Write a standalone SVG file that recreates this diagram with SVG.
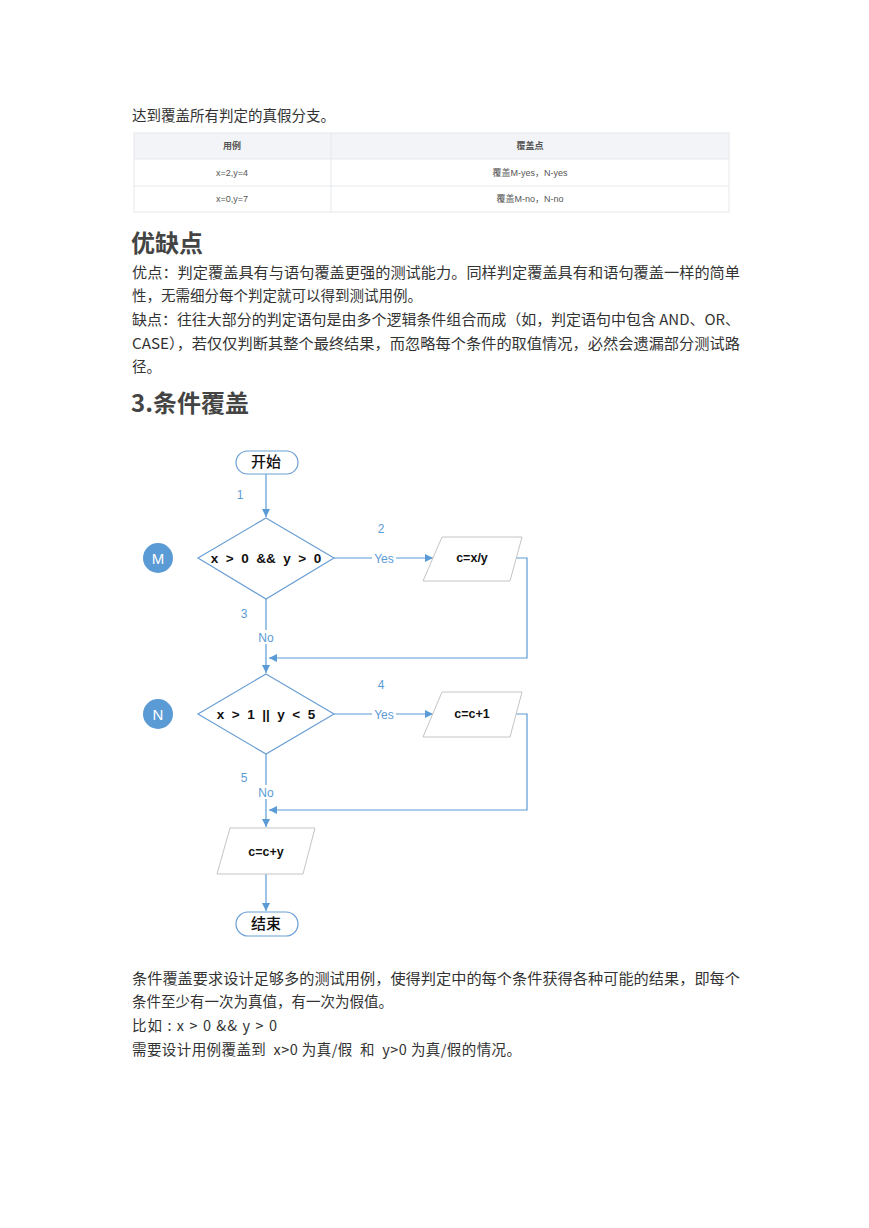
<svg xmlns="http://www.w3.org/2000/svg" width="869" height="1228" viewBox="0 0 869 1228">
<defs>
<style>
.body{font-family:"Noto Sans CJK SC","Liberation Sans",sans-serif;font-size:14.5px;fill:#333}
.h{font-family:"Noto Sans CJK SC","Liberation Sans",sans-serif;font-weight:bold;fill:#444}
.tbl{font-family:"Liberation Sans","Noto Sans CJK SC",sans-serif;font-size:9px;fill:#555;text-anchor:middle}
.ln{fill:none;stroke:#5b9bd5;stroke-width:1.2}
.lbl{font-family:"Liberation Sans","Noto Sans CJK SC",sans-serif;font-size:12px;fill:#5b9bd5;text-anchor:middle}
.dia{fill:#fff;stroke:#6a9fd4;stroke-width:1.2}
.para{fill:#fff;stroke:#c4c4c4;stroke-width:1}
.term{fill:#fff;stroke:#6a9fd4;stroke-width:1.2}
.cond{font-family:"Liberation Sans",sans-serif;font-size:13.5px;font-weight:bold;fill:#111;text-anchor:middle}
.pt{font-family:"Liberation Sans",sans-serif;font-size:12.5px;font-weight:bold;fill:#111;text-anchor:middle}
.tt{font-family:"Noto Sans CJK SC",sans-serif;font-size:15px;font-weight:500;fill:#111;text-anchor:middle}
.circ{fill:#5b9bd5}
.ct{font-family:"Liberation Sans",sans-serif;font-size:15px;fill:#fff;text-anchor:middle}
</style>
<marker id="arr" markerWidth="10" markerHeight="10" refX="8" refY="4" orient="auto" markerUnits="userSpaceOnUse">
<path d="M0,0 L8,4 L0,8 z" fill="#5b9bd5"/>
</marker>
</defs>
<rect width="869" height="1228" fill="#fff"/>

<text class="body" x="132" y="121">达到覆盖所有判定的真假分支。</text>

<g id="table">
<rect x="134" y="133" width="595" height="26" fill="#f2f4f7"/>
<rect x="134" y="133" width="595" height="79" fill="none" stroke="#e6e8eb"/>
<line x1="134" y1="159" x2="729" y2="159" stroke="#e6e8eb"/>
<line x1="134" y1="186" x2="729" y2="186" stroke="#e6e8eb"/>
<line x1="331" y1="133" x2="331" y2="212" stroke="#e6e8eb"/>
<text class="tbl" x="232" y="149" font-weight="bold">用例</text>
<text class="tbl" x="530" y="149" font-weight="bold">覆盖点</text>
<text class="tbl" x="232" y="176">x=2,y=4</text>
<text class="tbl" x="530" y="176">覆盖M-yes，N-yes</text>
<text class="tbl" x="232" y="202">x=0,y=7</text>
<text class="tbl" x="530" y="202">覆盖M-no，N-no</text>
</g>

<text class="h" x="131" y="252" font-size="24">优缺点</text>
<text class="body" x="132" y="278" textLength="608" lengthAdjust="spacingAndGlyphs">优点：判定覆盖具有与语句覆盖更强的测试能力。同样判定覆盖具有和语句覆盖一样的简单</text>
<text class="body" x="132" y="301">性，无需细分每个判定就可以得到测试用例。</text>
<text class="body" x="132" y="325" textLength="608" lengthAdjust="spacingAndGlyphs">缺点：往往大部分的判定语句是由多个逻辑条件组合而成（如，判定语句中包含 AND、OR、</text>
<text class="body" x="132" y="349" textLength="608" lengthAdjust="spacingAndGlyphs">CASE），若仅仅判断其整个最终结果，而忽略每个条件的取值情况，必然会遗漏部分测试路</text>
<text class="body" x="132" y="372">径。</text>

<text class="h" x="131" y="412" font-size="24">3.条件覆盖</text>

<g id="connectors">
<line class="ln" x1="266" y1="473" x2="266" y2="517" marker-end="url(#arr)"/>
<line class="ln" x1="334" y1="558" x2="433" y2="558" marker-end="url(#arr)"/>
<polyline class="ln" points="510,558 527,558 527,658 269,658" marker-end="url(#arr)"/>
<line class="ln" x1="266" y1="599" x2="266" y2="673" marker-end="url(#arr)"/>
<line class="ln" x1="334" y1="714" x2="433" y2="714" marker-end="url(#arr)"/>
<polyline class="ln" points="510,714 527,714 527,810 269,810" marker-end="url(#arr)"/>
<line class="ln" x1="266" y1="754" x2="266" y2="827" marker-end="url(#arr)"/>
<line class="ln" x1="266" y1="874" x2="266" y2="911" marker-end="url(#arr)"/>
<rect x="372" y="551" width="24" height="14" fill="#fff"/>
<text class="lbl" x="384" y="563">Yes</text>
<rect x="372" y="707" width="24" height="14" fill="#fff"/>
<text class="lbl" x="384" y="719">Yes</text>
<rect x="256" y="630" width="20" height="14" fill="#fff"/>
<text class="lbl" x="266" y="642">No</text>
<rect x="256" y="785" width="20" height="14" fill="#fff"/>
<text class="lbl" x="266" y="797">No</text>
<text class="lbl" x="240" y="499">1</text>
<text class="lbl" x="381" y="533">2</text>
<text class="lbl" x="244" y="618">3</text>
<text class="lbl" x="381" y="689">4</text>
<text class="lbl" x="244" y="782">5</text>
</g>

<g id="start">
<rect class="term" x="236" y="451" width="62" height="23" rx="11.5"/>
<text class="tt" x="266" y="467">开始</text>
</g>
<g id="M">
<circle class="circ" cx="158" cy="558" r="15"/>
<text class="ct" x="158" y="563.5">M</text>
</g>
<g id="decisionM">
<polygon class="dia" points="266,518 334,558 266,599 198,558"/>
<text class="cond" x="266" y="563" xml:space="preserve">x  &gt;  0  &amp;&amp;  y  &gt;  0</text>
</g>
<g id="p1">
<polygon class="para" points="442,537 522,537 510,581 423,581"/>
<text class="pt" x="472" y="562">c=x/y</text>
</g>
<g id="N">
<circle class="circ" cx="158" cy="714" r="15"/>
<text class="ct" x="158" y="719.5">N</text>
</g>
<g id="decisionN">
<polygon class="dia" points="266,674 334,714 266,754 198,714"/>
<text class="cond" x="266" y="719" xml:space="preserve">x  &gt;  1  ||  y  &lt;  5</text>
</g>
<g id="p2">
<polygon class="para" points="442,692 522,692 510,737 423,737"/>
<text class="pt" x="472" y="718">c=c+1</text>
</g>
<g id="p3">
<polygon class="para" points="230,828 315,828 303,874 217,874"/>
<text class="pt" x="266" y="856">c=c+y</text>
</g>
<g id="end">
<rect class="term" x="236" y="912" width="62" height="24" rx="12"/>
<text class="tt" x="266" y="929">结束</text>
</g>

<text class="body" x="132" y="984" textLength="608" lengthAdjust="spacingAndGlyphs">条件覆盖要求设计足够多的测试用例，使得判定中的每个条件获得各种可能的结果，即每个</text>
<text class="body" x="132" y="1007">条件至少有一次为真值，有一次为假值。</text>
<text class="body" x="132" y="1031" textLength="145" lengthAdjust="spacing">比如 : x &gt; 0 &amp;&amp; y &gt; 0</text>
<text class="body" x="132" y="1055" textLength="389" lengthAdjust="spacing" xml:space="preserve">需要设计用例覆盖到  x&gt;0 为真/假  和  y&gt;0 为真/假的情况。</text>
</svg>
